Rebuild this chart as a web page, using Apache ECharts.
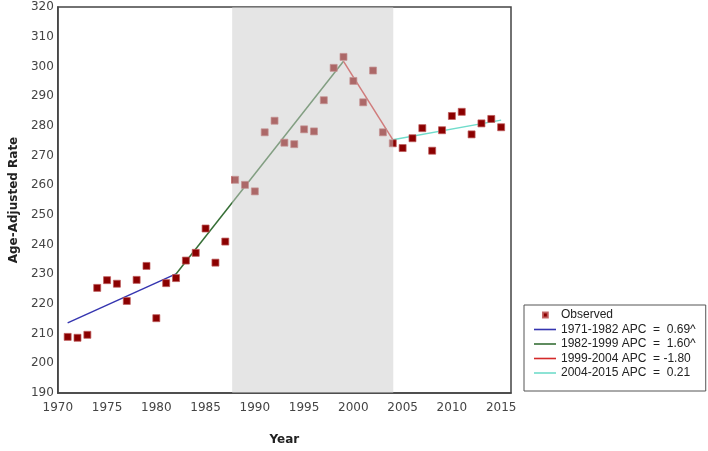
<!DOCTYPE html>
<html>
<head>
<meta charset="UTF-8">
<title>Age-Adjusted Rate</title>
<script src="https://cdn.jsdelivr.net/npm/echarts@6/dist/echarts.min.js"></script>
<style>
  html, body { margin: 0; padding: 0; background: #fff; }
  #chart { width: 708px; height: 451px; }
</style>
</head>
<body>
<div id="chart"></div>
<script>
// observed rates, one per year
var years = [1971, 1972, 1973, 1974, 1975, 1976, 1977, 1978, 1979, 1980,
  1981, 1982, 1983, 1984, 1985, 1986, 1987, 1988, 1989, 1990,
  1991, 1992, 1993, 1994, 1995, 1996, 1997, 1998, 1999, 2000,
  2001, 2002, 2003, 2004, 2005, 2006, 2007, 2008, 2009, 2010,
  2011, 2012, 2013, 2014, 2015];
var observed = [208.9, 208.6, 209.6, 225.4, 228.0, 226.8, 221.0, 228.1, 232.8, 215.2,
  227.0, 228.7, 234.6, 237.2, 245.4, 233.9, 241.0, 261.8, 260.1, 257.9,
  277.8, 281.7, 274.3, 273.8, 278.8, 278.1, 288.6, 299.5, 303.2, 295.1,
  287.9, 298.6, 277.8, 274.1, 272.5, 275.8, 279.2, 271.6, 278.5, 283.3,
  284.7, 277.1, 280.8, 282.3, 279.5];

// joinpoint segments (fitted line ends)
var segNames = ['1971-1982 APC  =  0.69^', '1982-1999 APC  =  1.60^', '1999-2004 APC  = -1.80', '2004-2015 APC  =  0.21'];
var segYears = [[1971, 1982], [1982, 1999], [1999, 2004], [2004, 2015]];
var segFit = [[213.6, 230.1], [230.1, 301.7], [301.7, 275.3], [275.3, 281.9]];
var segColors = ['#3535b0', '#366f36', '#d42a2a', '#70dccb'];

// shaded period
var shadeRange = [1987.7, 2004.05];

var xTicks = { min: 1970, max: 2016, interval: 5 };
var yTicks = { min: 190, max: 320, interval: 10 };

var chart = echarts.init(document.getElementById('chart'));

var series = [{
  name: 'Observed',
  type: 'scatter',
  symbol: 'rect',
  symbolSize: 7,
  itemStyle: { color: '#8b0000', opacity: 1, borderColor: 'rgba(190,90,90,0.9)', borderWidth: 0.8 },
  data: years.map(function (y, i) { return [y, observed[i]]; }),
  z: 2
}];

segNames.forEach(function (n, i) {
  series.push({
    name: n,
    type: 'line',
    showSymbol: false,
    symbol: 'none',
    color: segColors[i],
    lineStyle: { color: segColors[i], width: 1.5 },
    data: [[segYears[i][0], segFit[i][0]], [segYears[i][1], segFit[i][1]]],
    z: 2
  });
});

// grey band drawn over the marks
series.push({
  type: 'custom',
  z: 5,
  silent: true,
  data: [shadeRange],
  renderItem: function (params, api) {
    var p0 = api.coord([api.value(0), yTicks.max]);
    var p1 = api.coord([api.value(1), yTicks.min]);
    return {
      type: 'rect',
      shape: { x: p0[0], y: p0[1], width: p1[0] - p0[0], height: p1[1] - p0[1] },
      style: { fill: 'rgba(204,204,204,0.51)' }
    };
  }
});

var lineIcon = 'path://M0,0M22,6M0,2.2h22v1.6h-22z';
var dotIcon = 'path://M0,0M22,6M9,0.6h4.8v4.8h-4.8z';

chart.setOption({
  backgroundColor: '#fff',
  animation: false,
  grid: { left: 57, right: 197, top: 7, bottom: 55, show: true, borderColor: '#444', borderWidth: 1.5, backgroundColor: '#fff' },
  xAxis: {
    type: 'value',
    min: xTicks.min, max: xTicks.max, interval: xTicks.interval,
    name: 'Year', nameLocation: 'middle', nameGap: 41,
    nameTextStyle: { fontFamily: 'DejaVu Sans', fontWeight: 'bold', fontSize: 12, color: '#222' },
    axisLine: { lineStyle: { color: '#444', width: 1.5 } },
    axisTick: { show: false },
    splitLine: { show: false },
    axisLabel: {
      showMaxLabel: false, margin: 9, fontFamily: 'DejaVu Sans', fontSize: 12, color: '#444',
      formatter: function (v) { return String(v); }
    }
  },
  yAxis: {
    type: 'value',
    min: yTicks.min, max: yTicks.max, interval: yTicks.interval,
    name: 'Age-Adjusted Rate', nameLocation: 'middle', nameGap: 28,
    nameTextStyle: { fontFamily: 'DejaVu Sans', fontWeight: 'bold', fontSize: 12, color: '#222' },
    axisLine: { show: true, lineStyle: { color: '#444', width: 1.5 } },
    axisTick: { show: false },
    splitLine: { show: false },
    axisLabel: { margin: 4, fontFamily: 'DejaVu Sans', fontSize: 12, color: '#444' }
  },
  legend: {
    orient: 'vertical',
    left: 524, top: 305,
    padding: [3, 10, 11, 9],
    itemGap: 0.5,
    itemWidth: 22, itemHeight: 6,
    borderColor: '#555', borderWidth: 1,
    backgroundColor: '#fff',
    textStyle: { fontFamily: 'Liberation Sans', fontSize: 12, color: '#222', lineHeight: 14 },
    data: [{ name: 'Observed', icon: dotIcon }].concat(segNames.map(function (n) { return { name: n, icon: lineIcon }; }))
  },
  series: series
});
</script>
</body>
</html>
